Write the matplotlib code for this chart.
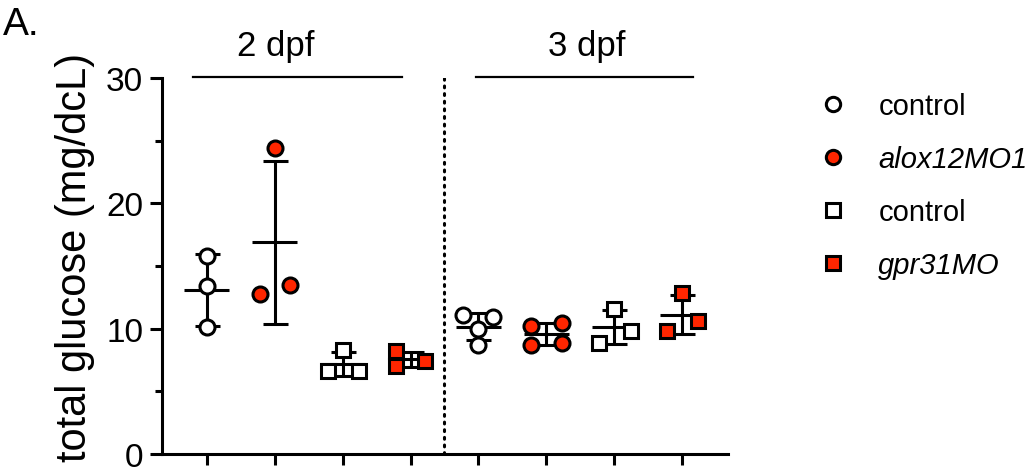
import numpy as np
import matplotlib
matplotlib.use("Agg")
import matplotlib.pyplot as plt
from matplotlib.lines import Line2D

plt.rcParams['font.family'] = ['Liberation Sans', 'DejaVu Sans']

# Total glucose per group (mg/dcL)
ctrl_2dpf = [15.8, 13.4, 10.1]
alox_2dpf = [24.4, 12.8, 13.5]
ctrl_sq_2dpf = [8.3, 6.65, 6.65]
gpr_2dpf = [8.2, 7.05, 7.45]
ctrl_3dpf = [11.1, 10.9, 10.0, 8.7]
alox_3dpf = [10.25, 10.45, 8.7, 8.9]
ctrl_sq_3dpf = [11.6, 9.85, 8.9]
gpr_3dpf = [12.85, 10.65, 9.85]

# Horizontal spread of the points within each group
offsets = [
    [0.0, 0.0, 0.0],
    [0.0, -0.22, 0.22],
    [0.0, -0.22, 0.24],
    [-0.22, -0.22, 0.22],
    [-0.22, 0.21, 0.0, 0.0],
    [-0.23, 0.23, -0.23, 0.23],
    [0.0, 0.24, -0.22],
    [0.0, 0.24, -0.22],
]

groups = [ctrl_2dpf, alox_2dpf, ctrl_sq_2dpf, gpr_2dpf,
          ctrl_3dpf, alox_3dpf, ctrl_sq_3dpf, gpr_3dpf]
positions = [1, 2, 3, 4, 5, 6, 7, 8]
markers = ['o', 'o', 's', 's', 'o', 'o', 's', 's']
RED = '#FF2600'
fills = ['white', RED, 'white', RED, 'white', RED, 'white', RED]

legend_labels = ['control', 'alox12MO1', 'control', 'gpr31MO']
legend_italic = [False, True, False, True]

LW = 2.2
MS = 10.8

fig = plt.figure(figsize=(10.33, 4.77), dpi=100)
ax = fig.add_axes([0.1568, 0.0461, 0.5476, 0.788])

for pos, vals, off, mk, fc in zip(positions, groups, offsets, markers, fills):
    vals = np.asarray(vals)
    mean = vals.mean()
    sd = vals.std(ddof=1)
    # mean line
    ax.plot([pos - 0.33, pos + 0.33], [mean, mean], color='black', lw=LW,
            solid_capstyle='butt', zorder=2)
    # SD bar with caps
    ax.errorbar(pos, mean, yerr=sd, fmt='none', ecolor='black', elinewidth=LW,
                capsize=9, capthick=LW, zorder=2)
    ax.plot(pos + np.asarray(off), vals, linestyle='none', marker=mk,
            ms=MS if mk == 'o' else MS - 0.6,
            mfc=fc, mec='black', mew=LW, zorder=3)

# separator between time points
ax.plot([4.5, 4.5], [0, 30], color='black', lw=2.2, linestyle=(0, (0.6, 1.9)),
        dash_capstyle='round', zorder=1)

ax.set_xlim(0.34, 8.67)
ax.set_ylim(0, 30)
ax.set_xticks(positions)
ax.set_xticklabels([])
ax.set_yticks([0, 10, 20, 30])
ax.set_yticks([5, 15, 25], minor=True)
ax.tick_params(axis='y', which='major', length=8.6, width=LW, labelsize=24, pad=5)
ax.tick_params(axis='y', which='minor', length=5, width=LW)
ax.tick_params(axis='x', which='major', length=8, width=LW)
for side in ['top', 'right']:
    ax.spines[side].set_visible(False)
for side in ['left', 'bottom']:
    ax.spines[side].set_linewidth(LW)
ax.set_ylabel('total glucose (mg/dcL)', fontsize=30)
ax.yaxis.set_label_coords(-0.118, 0.525)

# time point headers
ax.plot([0.8, 3.87], [30.1, 30.1], color='black', lw=1.6, clip_on=False)
ax.plot([4.97, 8.16], [30.1, 30.1], color='black', lw=1.6, clip_on=False)
ax.text(2.02, 31.3, '2 dpf', ha='center', va='bottom', fontsize=25)
ax.text(6.6, 31.3, '3 dpf', ha='center', va='bottom', fontsize=25)

fig.text(0.003, 0.927, 'A.', fontsize=28, ha='left', va='baseline')

handles = [
    Line2D([], [], linestyle='none', marker='o', ms=MS - 0.5, mfc='white', mec='black', mew=LW),
    Line2D([], [], linestyle='none', marker='o', ms=MS - 0.5, mfc=RED, mec='black', mew=LW),
    Line2D([], [], linestyle='none', marker='s', ms=MS - 1.2, mfc='white', mec='black', mew=LW),
    Line2D([], [], linestyle='none', marker='s', ms=MS - 1.2, mfc=RED, mec='black', mew=LW),
]
leg = fig.legend(handles, legend_labels, loc='upper left',
                 bbox_to_anchor=(0.7924, 0.805), frameon=False, fontsize=21,
                 handlelength=1.0, handletextpad=1.05, labelspacing=0.86,
                 borderpad=0, borderaxespad=0)
for txt, it in zip(leg.get_texts(), legend_italic):
    if it:
        txt.set_fontstyle('italic')

fig.savefig('out.png', dpi=100)
